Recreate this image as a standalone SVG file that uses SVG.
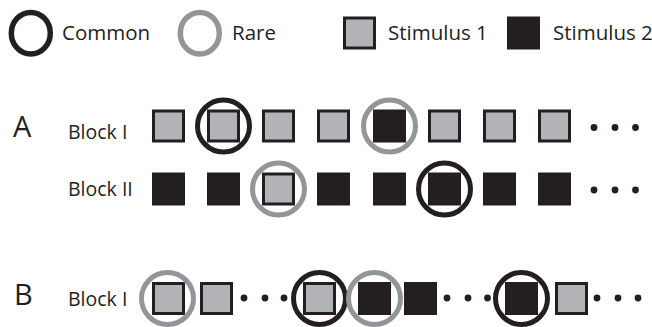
<svg xmlns="http://www.w3.org/2000/svg" width="652" height="327" viewBox="0 0 652 327">
<style>
text{font-family:"Open Sans","Noto Sans","Liberation Sans",sans-serif;fill:#231f20}
.lg{font-size:20.5px}
.lbl{font-size:19.5px}
.big{font-size:29px}
.s1{fill:#b1b3b6;stroke:#231f20;stroke-width:3}
.s2{fill:#231f20;stroke:#231f20;stroke-width:1}
.cc{fill:none;stroke:#231f20;stroke-width:5}
.cr{fill:none;stroke:#939598;stroke-width:5}
.lc{fill:none;stroke-width:5.5}
.dot{fill:#231f20}
</style>
<defs>
<rect id="g" class="s1" x="1.5" y="1.5" width="30" height="30"/>
<rect id="k" class="s2" x="0.5" y="0.5" width="32" height="32"/>
<circle id="d" class="dot" r="3.4"/>
</defs>
<g id="legend">
<g id="leg-common"><ellipse cx="30.8" cy="33.2" rx="19.5" ry="20.8" class="lc" stroke="#231f20"/><text class="lg" x="62" y="40">Common</text></g>
<g id="leg-rare"><ellipse cx="199.8" cy="33.2" rx="19.5" ry="20.8" class="lc" stroke="#939598"/><text class="lg" x="232" y="40">Rare</text></g>
<g id="leg-stim1"><use href="#g" x="343" y="16.5"/><text class="lg" x="388" y="40">Stimulus 1</text></g>
<g id="leg-stim2"><use href="#k" x="507" y="16.5"/><text class="lg" x="553" y="40">Stimulus 2</text></g>
</g>
<g id="panelA">
<text class="big" x="13" y="137">A</text>
<g id="A-block1">
<text class="lbl" x="68" y="138.5">Block I</text>
<use href="#g" x="152" y="109.5"/>
<use href="#g" x="207" y="109.5"/>
<use href="#g" x="262" y="109.5"/>
<use href="#g" x="317" y="109.5"/>
<use href="#k" x="373" y="109.5"/>
<use href="#g" x="428" y="109.5"/>
<use href="#g" x="483" y="109.5"/>
<use href="#g" x="538" y="109.5"/>
<circle class="cc" cx="223.5" cy="126" r="26"/>
<circle class="cr" cx="389.5" cy="126" r="26"/>
<use href="#d" x="594" y="127.5"/><use href="#d" x="615" y="127.5"/><use href="#d" x="635.5" y="127.5"/>
</g>
<g id="A-block2">
<text class="lbl" x="68" y="195.5">Block II</text>
<use href="#k" x="152" y="172.5"/>
<use href="#k" x="207" y="172.5"/>
<use href="#g" x="262" y="172.5"/>
<use href="#k" x="317" y="172.5"/>
<use href="#k" x="373" y="172.5"/>
<use href="#k" x="428" y="172.5"/>
<use href="#k" x="483" y="172.5"/>
<use href="#k" x="538" y="172.5"/>
<circle class="cr" cx="278.5" cy="189" r="26"/>
<circle class="cc" cx="444.5" cy="189" r="26"/>
<use href="#d" x="594" y="190"/><use href="#d" x="615" y="190"/><use href="#d" x="635.5" y="190"/>
</g>
</g>
<g id="panelB">
<text class="big" x="14" y="305">B</text>
<g id="B-block1">
<text class="lbl" x="68" y="305.5">Block I</text>
<use href="#g" x="152" y="282"/>
<use href="#g" x="200" y="282"/>
<use href="#g" x="303" y="282"/>
<use href="#k" x="358" y="282"/>
<use href="#k" x="404" y="282"/>
<use href="#k" x="505" y="282"/>
<use href="#g" x="555" y="282"/>
<circle class="cr" cx="167.5" cy="298.5" r="26"/>
<circle class="cc" cx="319.5" cy="298.5" r="26"/>
<circle class="cr" cx="374.5" cy="298.5" r="26"/>
<circle class="cc" cx="521.5" cy="298.5" r="26"/>
<use href="#d" x="244" y="298"/><use href="#d" x="265" y="298"/><use href="#d" x="284" y="298"/>
<use href="#d" x="447" y="298"/><use href="#d" x="468" y="298"/><use href="#d" x="487.5" y="298"/>
<use href="#d" x="597" y="298"/><use href="#d" x="618" y="298"/><use href="#d" x="638" y="298"/>
</g>
</g>
<g id="connectors"/>
</svg>
